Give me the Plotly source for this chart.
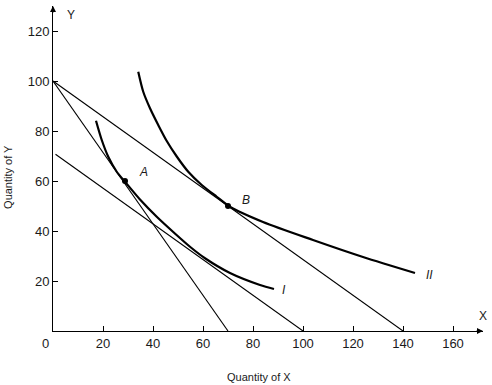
import plotly.graph_objects as go

# Budget lines (endpoints)
budget1_x = [0, 140]
budget1_y = [100, 0]
budget2_x = [0, 70]
budget2_y = [100, 0]
budget3_x = [1, 100]
budget3_y = [70.7, 0]

# Indifference curve I
curve1_x = [17.2, 19.5, 22.1, 25.5, 28.8, 34.8, 41.5, 48.1, 54.8, 60.8, 70.8, 82.8, 88.4]
curve1_y = [84.1, 76.4, 69.7, 63.7, 59.7, 52.6, 45.7, 39.6, 33.7, 29.1, 23.2, 18.4, 16.8]

# Indifference curve II
curve2_x = [34.1, 36.1, 38.8, 42.1, 45.5, 49.5, 54.1, 59.5, 65.5, 70.8, 84.0, 104.0, 124.0, 144.8]
curve2_y = [103.7, 95.7, 89.1, 82.4, 76.0, 69.8, 63.7, 58.4, 53.7, 49.7, 43.6, 36.4, 29.6, 23.2]

# Points
pts_x = [28.8, 70.0]
pts_y = [60.0, 50.0]

x_ticks = [20, 40, 60, 80, 100, 120, 140, 160]
y_ticks = [20, 40, 60, 80, 100, 120]

FONT = "Liberation Sans, Arial, sans-serif"
TXT = "#1a1a1a"

fig = go.Figure()
for bx, by in [(budget1_x, budget1_y), (budget2_x, budget2_y), (budget3_x, budget3_y)]:
    fig.add_trace(go.Scatter(x=bx, y=by, mode="lines",
                             line=dict(color="black", width=1.1), hoverinfo="skip"))
for cx, cy in [(curve1_x, curve1_y), (curve2_x, curve2_y)]:
    fig.add_trace(go.Scatter(x=cx, y=cy, mode="lines",
                             line=dict(color="black", width=2.2, shape="spline", smoothing=0.8),
                             hoverinfo="skip"))
fig.add_trace(go.Scatter(x=pts_x, y=pts_y, mode="markers",
                         marker=dict(color="black", size=6), hoverinfo="skip"))

annotations = [
    dict(x=36, y=63.5, text="<i>A</i>"),
    dict(x=77, y=52.5, text="<i>B</i>"),
    dict(x=92.5, y=16.5, text="<i>I</i>"),
    dict(x=150.5, y=22.3, text="<i>II</i>"),
    dict(x=7, y=126.5, text="Y"),
    dict(x=172, y=6, text="X"),
]
anns = []
for a in annotations:
    anns.append(dict(x=a["x"], y=a["y"], xref="x", yref="y", text=a["text"], showarrow=False,
                     font=dict(family=FONT, size=12, color=TXT)))
anns.append(dict(x=0, y=0, xref="x", yref="y", text="0", showarrow=False,
                 xshift=-8, yshift=-12, font=dict(family=FONT, size=13, color=TXT)))
anns.append(dict(x=0.479, y=-0.1415, xref="paper", yref="paper", text="Quantity of X",
                 xanchor="center", yanchor="middle",
                 showarrow=False, font=dict(family=FONT, size=11, color=TXT)))
anns.append(dict(x=-0.1047, y=0.474, xref="paper", yref="paper", text="Quantity of Y",
                 xanchor="center", yanchor="middle",
                 showarrow=False, textangle=-90, font=dict(family=FONT, size=11, color=TXT)))
# axis arrowheads
anns.append(dict(x=0, y=130, xref="x", yref="y", ax=0, ay=8, axref="pixel", ayref="pixel",
                 showarrow=True, arrowhead=2, arrowsize=1, arrowwidth=1.2, arrowcolor="black", text=""))
anns.append(dict(x=172, y=0, xref="x", yref="y", ax=-8, ay=0, axref="pixel", ayref="pixel",
                 showarrow=True, arrowhead=2, arrowsize=1, arrowwidth=1.2, arrowcolor="black", text=""))

fig.update_layout(
    width=492, height=385,
    margin=dict(l=53, r=9, t=6, b=54),
    paper_bgcolor="white", plot_bgcolor="white",
    showlegend=False,
    annotations=anns,
    xaxis=dict(range=[0, 172], tickvals=x_ticks, ticks="inside", ticklen=5, tickcolor="black",
               showline=True, linecolor="black", linewidth=1, showgrid=False, zeroline=False,
               automargin=False, tickfont=dict(family=FONT, size=13, color=TXT)),
    yaxis=dict(range=[0, 130], tickvals=y_ticks, ticks="inside", ticklen=5, tickcolor="black",
               showline=True, linecolor="black", linewidth=1, showgrid=False, zeroline=False,
               automargin=False, tickfont=dict(family=FONT, size=13, color=TXT)),
)
fig.write_html("out.html", config={"displayModeBar": False},
               post_script="document.body.style.margin='0';document.body.style.overflow='hidden';")
